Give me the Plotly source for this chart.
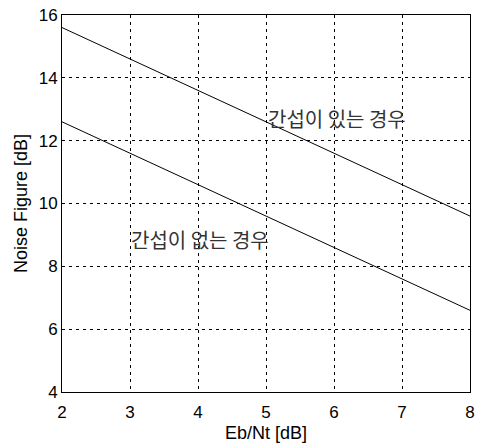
import plotly.graph_objects as go

# Eb/Nt values [dB]
eb_nt = [2, 3, 4, 5, 6, 7, 8]
# Noise figure with interference [dB]
nf_with_interference = [15.6, 14.6, 13.6, 12.6, 11.6, 10.6, 9.6]
# Noise figure without interference [dB]
nf_without_interference = [12.6, 11.6, 10.6, 9.6, 8.6, 7.6, 6.6]

x_ticks = [2, 3, 4, 5, 6, 7, 8]
y_ticks = [4, 6, 8, 10, 12, 14, 16]

label_with = "간섭이 있는 경우"
label_without = "간섭이 없는 경우"

fig = go.Figure()
fig.add_trace(go.Scatter(x=eb_nt, y=nf_with_interference, mode="lines",
                         line=dict(color="black", width=1), showlegend=False))
fig.add_trace(go.Scatter(x=eb_nt, y=nf_without_interference, mode="lines",
                         line=dict(color="black", width=1), showlegend=False))

hangul_font = dict(family="Noto Sans CJK KR", size=20, color="#333333")
fig.add_annotation(x=5.0, y=12.7, text=label_with, showarrow=False,
                   xanchor="left", yanchor="middle", font=hangul_font)
fig.add_annotation(x=2.98, y=8.85, text=label_without, showarrow=False,
                   xanchor="left", yanchor="middle", font=hangul_font)

axis_common = dict(
    showgrid=True, gridcolor="black", gridwidth=1, griddash="3px,4px",
    showline=True, linecolor="black", linewidth=1, mirror=True,
    ticks="", zeroline=False, automargin=False,
    tickfont=dict(family="Liberation Sans, Arial", size=17, color="black"),
)

title_font = dict(family="Liberation Sans, Arial", size=18, color="black")

fig.update_xaxes(range=[2, 8], tickvals=x_ticks, ticktext=[str(v) for v in x_ticks],
                 ticklabelstandoff=5,
                 title=dict(text="Eb/Nt [dB]", standoff=4, font=title_font),
                 **axis_common)
fig.update_yaxes(range=[4, 16], tickvals=y_ticks, ticktext=[str(v) for v in y_ticks],
                 title=dict(text="Noise Figure [dB]", standoff=6, font=title_font),
                 **axis_common)

fig.update_layout(
    width=483, height=448,
    margin=dict(l=62, r=13, t=15, b=56),
    plot_bgcolor="white", paper_bgcolor="white",
)

fig.write_html("out.html")
